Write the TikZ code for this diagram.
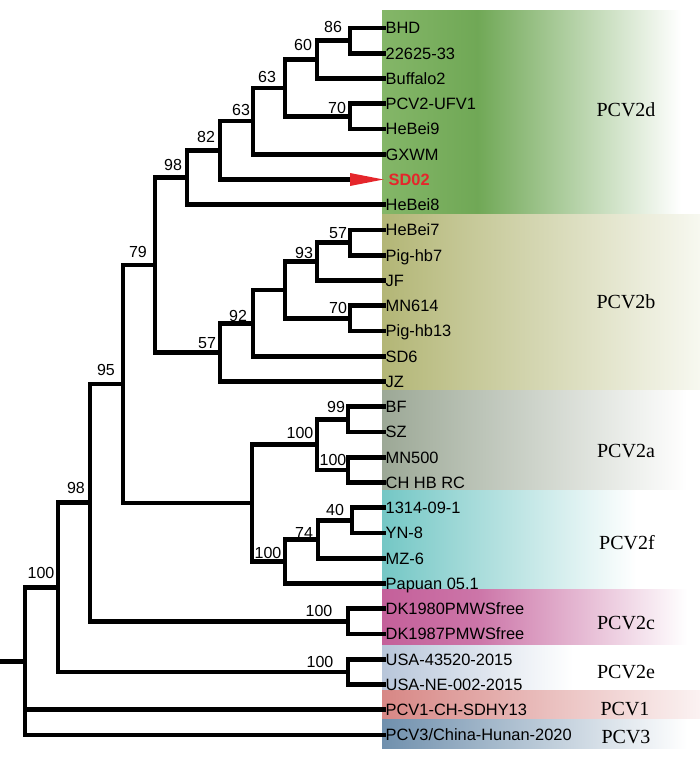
\documentclass[tikz,border=0pt]{standalone}
\usepackage{fontspec}
\setmainfont{Liberation Serif}
\newfontfamily\arialf{Liberation Sans}
\definecolor{dA}{HTML}{84B668}
\definecolor{dB}{HTML}{70A856}
\definecolor{bA}{HTML}{B3B676}
\definecolor{bB}{HTML}{F7F8F0}
\definecolor{aA}{HTML}{9CA896}
\definecolor{fA}{HTML}{74C7C5}
\definecolor{cA}{HTML}{C4609A}
\definecolor{cB}{HTML}{CC75A8}
\definecolor{eA}{HTML}{B8C6DA}
\definecolor{oA}{HTML}{D78785}
\definecolor{oB}{HTML}{FBF2F2}
\definecolor{tA}{HTML}{7090AD}
\definecolor{sdred}{HTML}{E5262B}
\pgfdeclarehorizontalshading{shD}{100bp}{color(0bp)=(dA); color(25bp)=(dA); color(40bp)=(dB); color(72bp)=(white); color(100bp)=(white)}
\pgfdeclarehorizontalshading{shB}{100bp}{color(0bp)=(bA); color(25bp)=(bA); color(75bp)=(bB); color(100bp)=(bB)}
\pgfdeclarehorizontalshading{shA}{100bp}{color(0bp)=(aA); color(25bp)=(aA); color(73bp)=(white); color(100bp)=(white)}
\pgfdeclarehorizontalshading{shF}{100bp}{color(0bp)=(fA); color(25bp)=(fA); color(65bp)=(white); color(100bp)=(white)}
\pgfdeclarehorizontalshading{shC}{100bp}{color(0bp)=(cA); color(25bp)=(cA); color(40bp)=(cB); color(73bp)=(white); color(100bp)=(white)}
\pgfdeclarehorizontalshading{shE}{100bp}{color(0bp)=(eA); color(25bp)=(eA); color(55bp)=(white); color(100bp)=(white)}
\pgfdeclarehorizontalshading{shO}{100bp}{color(0bp)=(oA); color(25bp)=(oA); color(75bp)=(oB); color(100bp)=(oB)}
\pgfdeclarehorizontalshading{shT}{100bp}{color(0bp)=(tA); color(25bp)=(tA); color(73bp)=(white); color(100bp)=(white)}
\tikzset{
  br/.style={line width=4.8pt, line cap=rect, line join=miter},
  leaf/.style={anchor=base west, inner sep=2pt, yshift=-5.85pt, font=\arialf\fontsize{16.4}{18}\selectfont},
  boot/.style={inner sep=0pt, font=\arialf\fontsize{16}{18}\selectfont},
  grp/.style={inner sep=0pt, font=\fontsize{20}{22}\selectfont},
}
\begin{document}
\begin{tikzpicture}[x=1pt,y=-1pt]
\useasboundingbox (0,0) rectangle (700,757);
% colour bands
\shade[shading=shD] (382,11) rectangle (700,214);
\shade[shading=shB] (382,214) rectangle (700,390);
\shade[shading=shA] (382,390) rectangle (700,490);
\shade[shading=shF] (382,490) rectangle (700,589);
\shade[shading=shC] (382,589) rectangle (700,645);
\shade[shading=shE] (382,645) rectangle (700,690);
\shade[shading=shO] (382,690) rectangle (700,719);
\shade[shading=shT] (382,719) rectangle (700,748);
% leaf tips
\coordinate (L0) at (383.5,28);
\coordinate (L1) at (383.5,53.25);
\coordinate (L2) at (383.5,78.5);
\coordinate (L3) at (383.5,103.75);
\coordinate (L4) at (383.5,129);
\coordinate (L5) at (383.5,154.25);
\coordinate (L6) at (383.5,179.5);
\coordinate (L7) at (383.5,204.75);
\coordinate (L8) at (383.5,230);
\coordinate (L9) at (383.5,255.25);
\coordinate (L10) at (383.5,280.5);
\coordinate (L11) at (383.5,305.75);
\coordinate (L12) at (383.5,331);
\coordinate (L13) at (383.5,356.25);
\coordinate (L14) at (383.5,381.5);
\coordinate (L15) at (383.5,406.75);
\coordinate (L16) at (383.5,432);
\coordinate (L17) at (383.5,457.25);
\coordinate (L18) at (383.5,482.5);
\coordinate (L19) at (383.5,507.75);
\coordinate (L20) at (383.5,533);
\coordinate (L21) at (383.5,558.25);
\coordinate (L22) at (383.5,583.5);
\coordinate (L23) at (383.5,608.75);
\coordinate (L24) at (383.5,634);
\coordinate (L25) at (383.5,659.25);
\coordinate (L26) at (383.5,684.5);
\coordinate (L27) at (383.5,709.75);
\coordinate (L28) at (383.5,735);
% internal nodes
\coordinate (n86) at (350,40.6);
\coordinate (n60) at (317,59.6);
\coordinate (n70a) at (350,116.4);
\coordinate (n63a) at (285,88);
\coordinate (n63b) at (253,121.1);
\coordinate (n82) at (220,150.3);
\coordinate (n98a) at (187,177.5);
\coordinate (n57a) at (350,242.6);
\coordinate (n93) at (317,261.6);
\coordinate (n70b) at (350,318.4);
\coordinate (nB) at (285,290);
\coordinate (n92) at (253,323.1);
\coordinate (n57b) at (220,352.3);
\coordinate (n79) at (155,264.9);
\coordinate (n99) at (348,419.4);
\coordinate (n100a) at (348,469.9);
\coordinate (n100b) at (317,444.6);
\coordinate (n40) at (352,520.4);
\coordinate (n74) at (318,539.3);
\coordinate (n100f) at (285,561.4);
\coordinate (nAF) at (252,503);
\coordinate (n95) at (123,384);
\coordinate (nDK) at (348,621.4);
\coordinate (n98b) at (90,502.7);
\coordinate (nUSA) at (348,671.9);
\coordinate (n100c) at (58,587.3);
\coordinate (nroot) at (25,661.2);
\coordinate (nstem) at (0,661.2);
\coordinate (sdbase) at (350,179.5);
\coordinate (sdA) at (350,173);
\coordinate (sdB) at (350,186);
% branches
\draw[br] (n86) |- (L0) (n86) |- (L1);
\draw[br] (n60) |- (n86) (n60) |- (L2);
\draw[br] (n70a) |- (L3) (n70a) |- (L4);
\draw[br] (n63a) |- (n60) (n63a) |- (n70a);
\draw[br] (n63b) |- (n63a) (n63b) |- (L5);
\draw[br] (n82) |- (n63b) (n82) |- (sdbase);
\draw[br] (n98a) |- (n82) (n98a) |- (L7);
\draw[br] (n57a) |- (L8) (n57a) |- (L9);
\draw[br] (n93) |- (n57a) (n93) |- (L10);
\draw[br] (n70b) |- (L11) (n70b) |- (L12);
\draw[br] (nB) |- (n93) (nB) |- (n70b);
\draw[br] (n92) |- (nB) (n92) |- (L13);
\draw[br] (n57b) |- (n92) (n57b) |- (L14);
\draw[br] (n79) |- (n98a) (n79) |- (n57b);
\draw[br] (n99) |- (L15) (n99) |- (L16);
\draw[br] (n100a) |- (L17) (n100a) |- (L18);
\draw[br] (n100b) |- (n99) (n100b) |- (n100a);
\draw[br] (n40) |- (L19) (n40) |- (L20);
\draw[br] (n74) |- (n40) (n74) |- (L21);
\draw[br] (n100f) |- (n74) (n100f) |- (L22);
\draw[br] (nAF) |- (n100b) (nAF) |- (n100f);
\draw[br] (n95) |- (n79) (n95) |- (nAF);
\draw[br] (nDK) |- (L23) (nDK) |- (L24);
\draw[br] (n98b) |- (n95) (n98b) |- (nDK);
\draw[br] (nUSA) |- (L25) (nUSA) |- (L26);
\draw[br] (n100c) |- (n98b) (n100c) |- (nUSA);
\draw[br] (nroot) |- (n100c) (nroot) |- (L27) (nroot) |- (L28);
\draw[br] (nstem) -- (nroot);
\fill[sdred] (sdA) -- (L6) -- (sdB) -- cycle;
% leaf labels
\node[leaf] (tL0) at (L0) {BHD};
\node[leaf] (tL1) at (L1) {22625-33};
\node[leaf] (tL2) at (L2) {Buffalo2};
\node[leaf] (tL3) at (L3) {PCV2-UFV1};
\node[leaf] (tL4) at (L4) {HeBei9};
\node[leaf] (tL5) at (L5) {GXWM};
\node[leaf, text=sdred, font=\arialf\bfseries\fontsize{16.4}{18}\selectfont, xshift=3pt] (tL6) at (L6) {SD02};
\node[leaf] (tL7) at (L7) {HeBei8};
\node[leaf] (tL8) at (L8) {HeBei7};
\node[leaf] (tL9) at (L9) {Pig-hb7};
\node[leaf] (tL10) at (L10) {JF};
\node[leaf] (tL11) at (L11) {MN614};
\node[leaf] (tL12) at (L12) {Pig-hb13};
\node[leaf] (tL13) at (L13) {SD6};
\node[leaf] (tL14) at (L14) {JZ};
\node[leaf] (tL15) at (L15) {BF};
\node[leaf] (tL16) at (L16) {SZ};
\node[leaf] (tL17) at (L17) {MN500};
\node[leaf] (tL18) at (L18) {CH HB RC};
\node[leaf] (tL19) at (L19) {1314-09-1};
\node[leaf] (tL20) at (L20) {YN-8};
\node[leaf] (tL21) at (L21) {MZ-6};
\node[leaf] (tL22) at (L22) {Papuan 05.1};
\node[leaf] (tL23) at (L23) {DK1980PMWSfree};
\node[leaf] (tL24) at (L24) {DK1987PMWSfree};
\node[leaf] (tL25) at (L25) {USA-43520-2015};
\node[leaf] (tL26) at (L26) {USA-NE-002-2015};
\node[leaf] (tL27) at (L27) {PCV1-CH-SDHY13};
\node[leaf] (tL28) at (L28) {PCV3/China-Hunan-2020};
% bootstrap values
\node[boot] (b86) at (333,27) {86};
\node[boot] (b60) at (303,45) {60};
\node[boot] (b63a) at (267,77) {63};
\node[boot] (b70a) at (337,108) {70};
\node[boot] (b63b) at (241,110) {63};
\node[boot] (b82) at (206,137) {82};
\node[boot] (b98a) at (173,165) {98};
\node[boot] (b57a) at (338,233) {57};
\node[boot] (b93) at (304,253) {93};
\node[boot] (b70b) at (338,308) {70};
\node[boot] (b92) at (238,316) {92};
\node[boot] (b57b) at (207,343) {57};
\node[boot] (b79) at (138,252) {79};
\node[boot] (b95) at (106,370) {95};
\node[boot] (b98b) at (76,488) {98};
\node[boot] (b100c) at (41,573) {100};
\node[boot] (b99) at (336,407) {99};
\node[boot] (b100a) at (333,460) {100};
\node[boot] (b100b) at (300,433) {100};
\node[boot] (b40) at (335,510) {40};
\node[boot] (b74) at (304,533) {74};
\node[boot] (b100f) at (268,553) {100};
\node[boot] (bDK) at (319,611) {100};
\node[boot] (bUSA) at (320,662) {100};
% group labels
\node[grp] (gD) at (626,110) {PCV2d};
\node[grp] (gB) at (626,302) {PCV2b};
\node[grp] (gA) at (626,451) {PCV2a};
\node[grp] (gF) at (627,543) {PCV2f};
\node[grp] (gC) at (626,623) {PCV2c};
\node[grp] (gE) at (626,672) {PCV2e};
\node[grp] (g1) at (625,709) {PCV1};
\node[grp] (g3) at (626,737) {PCV3};
\end{tikzpicture}
\end{document}
